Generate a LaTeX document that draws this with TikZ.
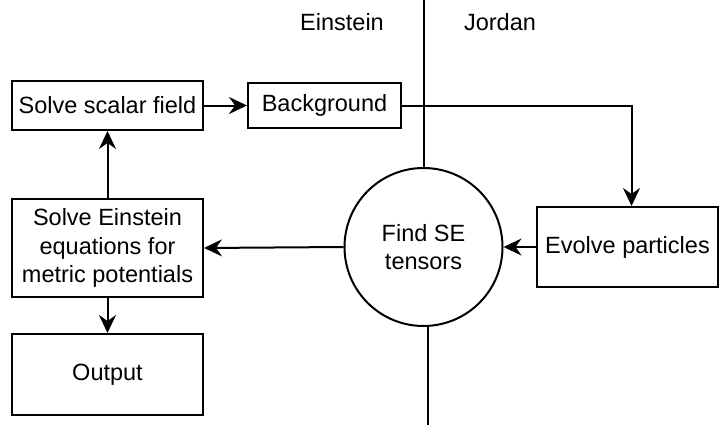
\documentclass[tikz,border=0pt]{standalone}
\usepackage{fontspec}
\setmainfont{Liberation Sans}
\usetikzlibrary{arrows.meta,calc}
\begin{document}
\begin{tikzpicture}[x=1pt,y=-1pt,
  every node/.style={font=\fontsize{23.5}{28.5}\selectfont},
  box/.style={draw,line width=2pt,rectangle,inner sep=0pt,align=center},
  circ/.style={draw,line width=2pt,circle,inner sep=0pt,minimum size=158pt,align=center},
  conn/.style={line width=2pt},
  arr/.style={line width=2pt,-{Stealth[length=18pt,width=17pt,inset=6pt]}}]
\useasboundingbox (0,0) rectangle (719,428);
\node[box,minimum width=191pt,minimum height=49pt] (ssf) at (107.5,105.5) {Solve scalar field};
\node[box,minimum width=153pt,minimum height=45pt] (bg) at (324.5,105.5) {Background};
\node[circ] (se) at (423.5,247) {Find SE\\tensors};
\node[box,minimum width=181pt,minimum height=80pt] (ev) at (627.5,247) {Evolve particles};
\node[box,minimum width=191pt,minimum height=98pt] (sei) at (107.5,248) {Solve Einstein\\equations for\\metric potentials};
\node[box,minimum width=191pt,minimum height=81pt] (out) at (107.5,374.5) {Output};
\node (ein) at (342,22) {Einstein};
\node (jor) at (500,22) {Jordan};
\coordinate (top) at (424,0);
\coordinate (bot) at (428,425);
\draw[conn] (top) -- (top |- se.north);
\draw[conn] (bot |- se.south) -- (bot);
\draw[arr] (ssf.east) -- (bg.west);
\draw[arr] (bg.east) -| ([xshift=4pt]ev.north);
\draw[arr] (ev.west) -- (se.east);
\draw[arr] (se.west) -- (sei.east);
\draw[arr] (sei.north) -- (ssf.south);
\draw[arr] (sei.south) -- (out.north);
\end{tikzpicture}
\end{document}
